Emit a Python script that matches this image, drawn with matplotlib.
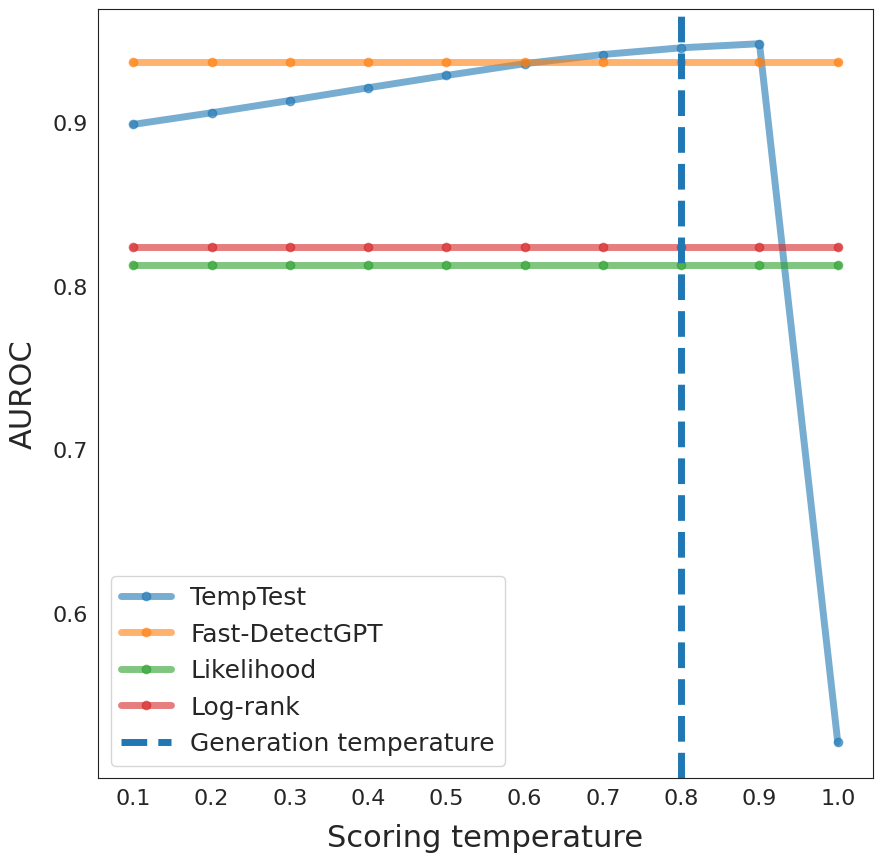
import numpy as np
import matplotlib
matplotlib.use("Agg")
import matplotlib.pyplot as plt
import seaborn as sns

sns.set_style("white")
plt.rcParams['font.family'] = ['DejaVu Sans']

temps = [0.1, 0.2, 0.3, 0.4, 0.5, 0.6, 0.7, 0.8, 0.9, 1.0]
temptest = [0.8985, 0.9056, 0.9131, 0.9209, 0.9284, 0.9356, 0.9412, 0.9453, 0.9478, 0.521]
fast_detectgpt = [0.9368] * 10
likelihood = [0.8129] * 10
log_rank = [0.8237] * 10
gen_temp = 0.8

fig = plt.figure(figsize=(8.82, 8.62), dpi=100)
ax = fig.add_axes([98 / 882, 1 - 779 / 862, 775 / 882, 769 / 862])

ax.plot(temps, temptest, marker='o', lw=5, ms=6, alpha=0.6, label='TempTest', color='C0')
ax.plot(temps, fast_detectgpt, marker='o', lw=5, ms=6, alpha=0.6, label='Fast-DetectGPT', color='C1')
ax.plot(temps, likelihood, marker='o', lw=5, ms=6, alpha=0.6, label='Likelihood', color='C2')
ax.plot(temps, log_rank, marker='o', lw=5, ms=6, alpha=0.6, label='Log-rank', color='C3')
ax.axvline(gen_temp, color='#1f77b4', lw=5, ls='--', label='Generation temperature')

ax.set_xticks(temps)
ax.set_yticks([0.6, 0.7, 0.8, 0.9])
ax.set_xlim(0.055, 1.045)
ax.set_ylim(0.4993, 0.969)
ax.tick_params(labelsize=16)
ax.set_xlabel('Scoring temperature', fontsize=22, labelpad=11)
ax.set_ylabel('AUROC', fontsize=22, labelpad=11)
for s in ax.spines.values():
    s.set_color('#222222')
ax.legend(fontsize=18, loc='lower left')

fig.savefig('out.png', dpi=100)
